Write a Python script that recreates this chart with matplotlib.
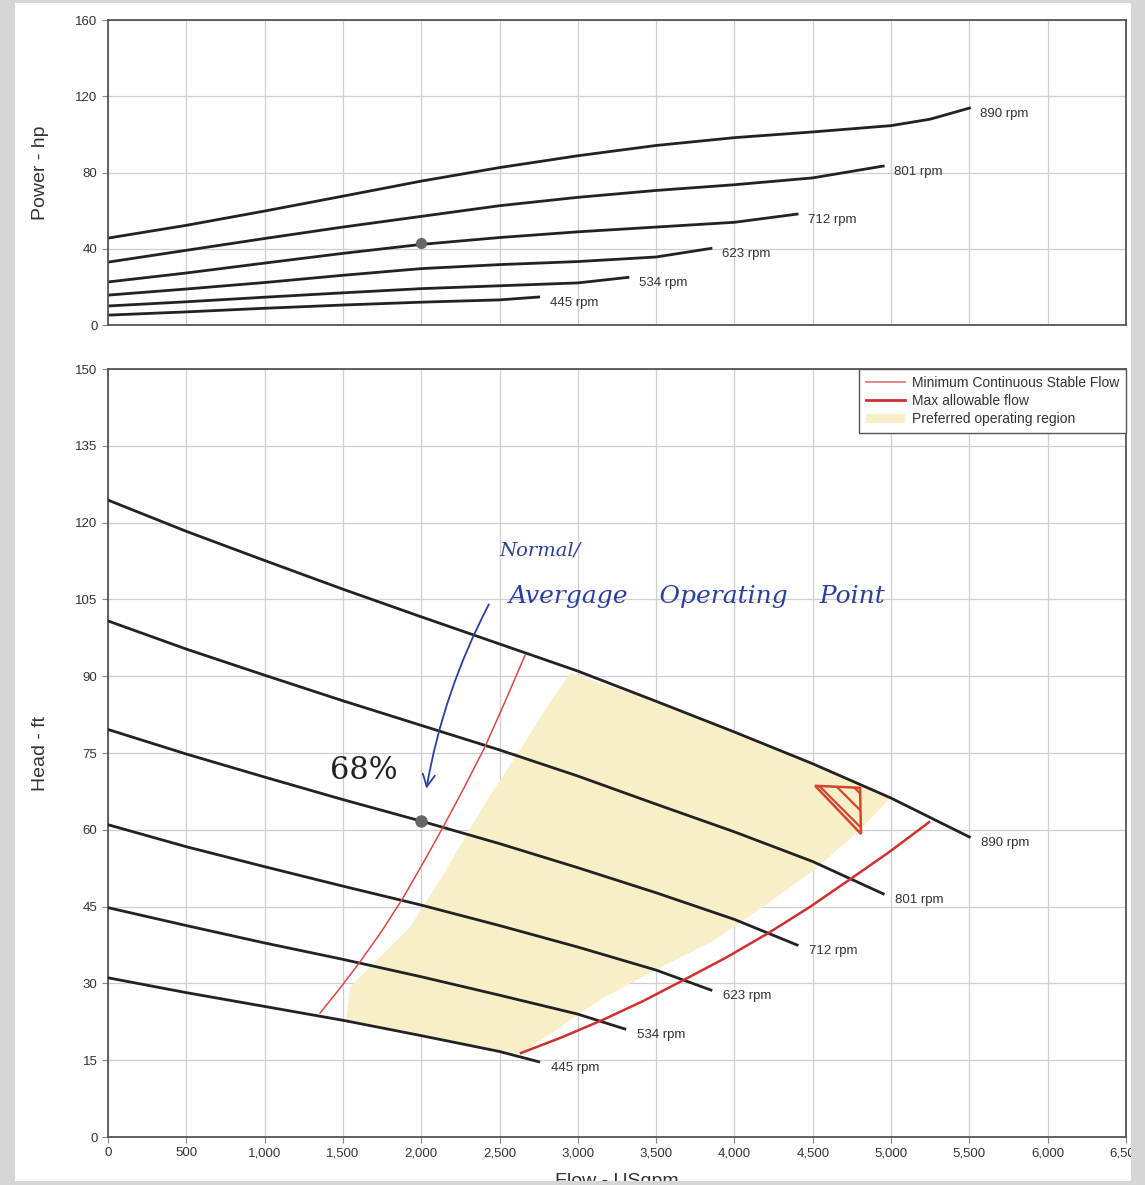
import matplotlib.pyplot as plt
from matplotlib.patches import Polygon, Patch, Rectangle
from matplotlib.lines import Line2D

plt.rcParams['font.family'] = ['Liberation Sans', 'DejaVu Sans']

# ---- data ----
SPEEDS = ['890 rpm', '801 rpm', '712 rpm', '623 rpm', '534 rpm', '445 rpm']

# power curves (flow USgpm, power hp)
power_flow = [
    [0, 500, 1000, 1500, 2000, 2500, 3000, 3500, 4000, 4500, 5000, 5250, 5500],
    [0, 500, 1000, 1500, 2000, 2500, 3000, 3500, 4000, 4500, 4950],
    [0, 500, 1000, 1500, 2000, 2500, 3000, 3500, 4000, 4400],
    [0, 500, 1000, 1500, 2000, 2500, 3000, 3500, 3850],
    [0, 500, 1000, 1500, 2000, 2500, 3000, 3320],
    [0, 500, 1000, 1500, 2000, 2500, 2750],
]
power_hp = [
    [45.6, 52.3, 59.8, 67.6, 75.5, 82.6, 88.8, 94.2, 98.3, 101.3, 104.6, 108.0, 113.8],
    [33.0, 39.2, 45.4, 51.4, 57.0, 62.6, 67.0, 70.6, 73.6, 77.2, 83.4],
    [22.6, 27.3, 32.5, 37.6, 42.3, 45.9, 48.9, 51.4, 53.9, 58.2],
    [15.7, 18.9, 22.3, 26.1, 29.6, 31.7, 33.3, 35.7, 40.2],
    [10.0, 12.2, 14.6, 16.9, 19.1, 20.6, 22.1, 25.0],
    [5.2, 6.9, 8.8, 10.5, 12.0, 13.2, 14.7],
]

# head curves (flow USgpm, head ft)
head_flow = [
    [0, 500, 1000, 1500, 2000, 2500, 3000, 3500, 4000, 4500, 5000, 5500],
    [0, 500, 1000, 1500, 2000, 2500, 3000, 3500, 4000, 4500, 4950],
    [0, 500, 1000, 1500, 2000, 2500, 3000, 3500, 4000, 4400],
    [0, 500, 1000, 1500, 2000, 2500, 3000, 3500, 3850],
    [0, 500, 1000, 1500, 2000, 2500, 3000, 3300],
    [0, 500, 1000, 1500, 2000, 2500, 2750],
]
head_ft = [
    [124.4, 118.3, 112.6, 107.0, 101.6, 96.3, 91.0, 85.1, 79.1, 72.9, 66.2, 58.6],
    [100.8, 95.3, 90.2, 85.2, 80.4, 75.6, 70.5, 65.0, 59.6, 53.8, 47.5],
    [79.6, 74.8, 70.3, 65.9, 61.7, 57.3, 52.6, 47.7, 42.5, 37.5],
    [61.0, 56.7, 52.8, 49.0, 45.3, 41.3, 37.1, 32.6, 28.7],
    [44.8, 41.3, 37.9, 34.7, 31.3, 27.7, 24.0, 21.1],
    [31.1, 28.2, 25.5, 22.8, 19.8, 16.7, 14.7],
]

# minimum continuous stable flow line
mcsf_flow = [1354, 1480, 1609, 1750, 1884, 2010, 2139, 2270, 2407, 2535, 2663]
mcsf_head = [24.2, 29.0, 34.2, 40.3, 46.7, 53.4, 60.5, 68.0, 76.2, 85.0, 94.1]

# max allowable flow line
maf_flow = [2637, 2900, 3161, 3420, 3678, 3950, 4215, 4475, 4732, 4990, 5243]
maf_head = [16.4, 19.5, 22.9, 26.6, 30.7, 35.1, 39.8, 44.8, 50.2, 55.7, 61.5]

# preferred operating region outline
pref_flow = [1520, 1545, 1928, 2120, 2420, 2631, 2803, 2950, 3500, 4000, 4500, 4994,
             4802, 4508, 4215, 3876, 3531, 3142, 2637, 2500, 2000]
pref_head = [22.6, 29.3, 41.0, 50.2, 65.8, 75.6, 84.0, 90.6, 85.1, 79.1, 72.9, 66.2,
             60.0, 52.1, 45.7, 38.5, 33.2, 26.8, 16.2, 16.7, 19.8]

# warning triangle
tri_flow = [4515, 4802, 4808]
tri_head = [68.6, 68.2, 59.2]

# operating point
op_flow = 2000
op_power = 43
op_head = 61.7

GRID = '#cfcfcf'
SPINE = '#555555'
TXT = '#333333'
INK = '#2b3f9c'

fig = plt.figure(figsize=(11.45, 11.85), dpi=100, facecolor='white')
ax_p = fig.add_axes([0.0943, 0.7257, 0.8891, 0.2574])
ax_h = fig.add_axes([0.0943, 0.0405, 0.8891, 0.6481])

for ax in (ax_p, ax_h):
    ax.set_xlim(0, 6500)
    ax.set_xticks(range(0, 6501, 500))
    ax.grid(True, color=GRID, lw=0.9)
    ax.set_axisbelow(True)
    for s in ax.spines.values():
        s.set_color(SPINE)
        s.set_linewidth(1.3)
    ax.tick_params(colors='#888888', labelcolor=TXT, labelsize=9.5, length=4, width=0.8)

# ---- power plot ----
ax_p.set_ylim(0, 160)
ax_p.set_yticks([0, 40, 80, 120, 160])
ax_p.tick_params(axis='x', labelbottom=False, length=0)
for name, xs, ys in zip(SPEEDS, power_flow, power_hp):
    ax_p.plot(xs, ys, color='#222222', lw=2, solid_joinstyle='round')
    ax_p.annotate(name, (xs[-1], ys[-1]), xytext=(11, -6), textcoords='offset pixels',
                  fontsize=9.5, color=TXT, va='center', ha='left')
ax_p.plot(op_flow, op_power, marker='o', ms=7, color='#666666', zorder=5)
ax_p.set_ylabel('Power - hp', fontsize=14, color=TXT)
ax_p.yaxis.set_label_coords(-0.058, 0.5)

# ---- head plot ----
ax_h.set_ylim(0, 150)
ax_h.set_yticks(range(0, 151, 15))
ax_h.set_xticklabels([f'{v:,}' for v in range(0, 6501, 500)])

ax_h.add_patch(Polygon(list(zip(pref_flow, pref_head)), closed=True,
                       facecolor='#f8efc9', edgecolor='none', zorder=1))

for name, xs, ys in zip(SPEEDS, head_flow, head_ft):
    ax_h.plot(xs, ys, color='#222222', lw=2, zorder=3, solid_joinstyle='round')
    ax_h.annotate(name, (xs[-1], ys[-1]), xytext=(12, -6), textcoords='offset pixels',
                  fontsize=9.5, color=TXT, va='center', ha='left')

ax_h.plot(mcsf_flow, mcsf_head, color='#d94848', lw=1.1, zorder=4)
ax_h.plot(maf_flow, maf_head, color='#cf3030', lw=1.8, zorder=4)

plt.rcParams['hatch.linewidth'] = 1.6
ax_h.add_patch(Polygon(list(zip(tri_flow, tri_head)), closed=True, fill=False,
                       edgecolor='#d4452e', lw=1.8, hatch='\\\\', zorder=4))

ax_h.plot(op_flow, op_head, marker='o', ms=8, color='#666666', zorder=5)

# handwritten notes
ax_h.text(2500, 114.5, 'Normal/', fontsize=14, color=INK, style='italic',
          family='DejaVu Serif', ha='left', va='center')
ax_h.text(2560, 105.5, 'Avergage    Operating    Point', fontsize=18, color=INK,
          style='italic', family='DejaVu Serif', ha='left', va='center')
ax_h.text(1418, 71.5, '68%', fontsize=22, color='#222222', family='DejaVu Serif',
          ha='left', va='center')
ax_h.annotate('', xy=(2030, 67.5), xytext=(2440, 104.5),
              arrowprops=dict(arrowstyle='->', color=INK, lw=1.3,
                              connectionstyle='arc3,rad=0.08', mutation_scale=22))

ax_h.set_ylabel('Head - ft', fontsize=14, color=TXT)
ax_h.yaxis.set_label_coords(-0.058, 0.5)
ax_h.set_xlabel('Flow - USgpm', fontsize=14, color=TXT, labelpad=10)

handles = [Line2D([], [], color='#e27a7a', lw=1.3),
           Line2D([], [], color='#cf3030', lw=2),
           Patch(facecolor='#f8efc9', edgecolor='none')]
leg = ax_h.legend(handles, ['Minimum Continuous Stable Flow', 'Max allowable flow',
                            'Preferred operating region'],
                  loc='upper right', borderaxespad=0, fancybox=False, framealpha=1,
                  edgecolor=SPINE, fontsize=10, handlelength=2.8, labelspacing=0.3,
                  handletextpad=0.5, borderpad=0.5)
leg.get_frame().set_linewidth(1.0)
for t in leg.get_texts():
    t.set_color(TXT)

# grey scanner border around the page
BORDER = '#d6d6d6'
W, H = 1145, 1185
for x0, y0, w, h in [(0, 0, 15, H), (1131, 0, W - 1131, H), (0, H - 3, W, 3), (0, 0, W, 4)]:
    fig.add_artist(Rectangle((x0 / W, y0 / H), w / W, h / H, transform=fig.transFigure,
                             facecolor=BORDER, edgecolor='none', zorder=20))

fig.savefig('out.png', dpi=100, facecolor=fig.get_facecolor())
